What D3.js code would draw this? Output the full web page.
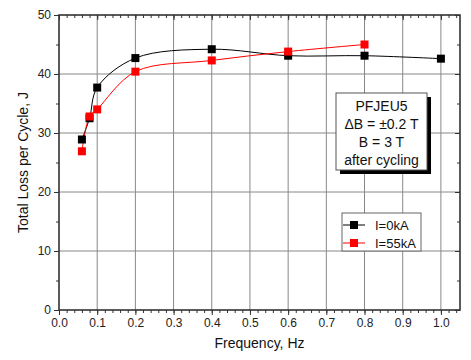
<!DOCTYPE html>
<html><head><meta charset="utf-8">
<script src="https://cdn.jsdelivr.net/npm/d3@7"></script>
<style>
body{margin:0;background:#fff;}
text{font-family:"Liberation Sans",Arial,sans-serif;}
</style></head>
<body><svg id="c" width="471" height="360"></svg>
<script>
const freq0 = [0.06, 0.08, 0.1, 0.2, 0.4, 0.6, 0.8, 1.0];
const loss0 = [28.9, 32.5, 37.7, 42.7, 44.2, 43.1, 43.1, 42.6];
const freq55 = [0.06, 0.08, 0.1, 0.2, 0.4, 0.6, 0.8];
const loss55 = [26.9, 32.8, 34.0, 40.4, 42.3, 43.8, 45.0];
const xTicks = [0.0,0.1,0.2,0.3,0.4,0.5,0.6,0.7,0.8,0.9,1.0];
const yTicks = [0,10,20,30,40,50];
const seriesNames = ["I=0kA","I=55kA"];
const seriesColors = ["#000000","#ff0000"];
const annotation = ["PFJEU5","\u0394B = \u00b10.2 T","B = 3 T","after cycling"];

const svg = d3.select("#c");
const L=59,R=460,T=15,B=310;
const x = d3.scaleLinear().domain([0,1.05]).range([L,R]);
const y = d3.scaleLinear().domain([0,50]).range([B,T]);

// grid
const g = svg.append("g");
g.selectAll(".gx").data(xTicks.slice(1)).enter().append("line")
 .attr("x1",d=>x(d)).attr("x2",d=>x(d)).attr("y1",T).attr("y2",B)
 .attr("stroke","#888").attr("stroke-width",1);
g.selectAll(".gy").data(yTicks.slice(1,-1)).enter().append("line")
 .attr("y1",d=>y(d)).attr("y2",d=>y(d)).attr("x1",L).attr("x2",R)
 .attr("stroke","#888").attr("stroke-width",1);

// axes
const minorX = d3.range(0,1.0501,0.02);
const minorY = d3.range(0,50.01,5);
const xAxis = d3.axisBottom(x).tickValues(xTicks).tickFormat(d3.format(".1f")).tickSize(5).tickPadding(3);
const xAxisG = svg.append("g").attr("transform",`translate(0,${B})`).call(xAxis);
svg.append("g").attr("transform",`translate(0,${B})`).call(d3.axisBottom(x).tickValues(minorX).tickSize(3).tickFormat(""));
svg.append("g").attr("transform",`translate(0,${T})`).call(d3.axisBottom(x).tickValues(minorX).tickSize(3).tickFormat(""));
svg.append("g").attr("transform",`translate(0,${T})`).call(d3.axisBottom(x).tickValues(xTicks).tickSize(5).tickFormat(""));
const yAxisG = svg.append("g").attr("transform",`translate(${L},0)`).call(d3.axisLeft(y).tickValues(yTicks).tickSize(5).tickPadding(3));
svg.append("g").attr("transform",`translate(${L},0)`).call(d3.axisLeft(y).tickValues(minorY).tickSize(3).tickFormat(""));
svg.append("g").attr("transform",`translate(${R},0)`).call(d3.axisLeft(y).tickValues(minorY).tickSize(3).tickFormat(""));
svg.append("g").attr("transform",`translate(${R},0)`).call(d3.axisLeft(y).tickValues(yTicks).tickSize(5).tickFormat(""));
svg.selectAll(".domain").remove();
svg.selectAll(".tick line").attr("stroke","#333").attr("stroke-width",1);
svg.selectAll(".tick text").attr("font-size",12).attr("fill","#222").style("font-family","'Liberation Sans',Arial,sans-serif");

// frame
svg.append("rect").attr("x",L).attr("y",T).attr("width",R-L).attr("height",B-T)
 .attr("fill","none").attr("stroke","#333").attr("stroke-width",1.6);

// series
const line = d3.line().x(d=>x(d[0])).y(d=>y(d[1])).curve(d3.curveCatmullRom.alpha(0.5));
const data = [d3.zip(freq0,loss0), d3.zip(freq55,loss55)];
data.forEach((pts,i)=>{
  svg.append("path").datum(pts).attr("d",line).attr("fill","none")
   .attr("stroke",seriesColors[i]).attr("stroke-width",1);
});
data.forEach((pts,i)=>{
  svg.selectAll(".m"+i).data(pts).enter().append("rect")
   .attr("x",d=>x(d[0])-4).attr("y",d=>y(d[1])-4).attr("width",8).attr("height",8)
   .attr("fill",seriesColors[i]);
});

// annotation box
const bx=336,by=93,bw=91,bh=77;
svg.append("rect").attr("x",bx+4).attr("y",by+4).attr("width",bw).attr("height",bh).attr("fill","#000");
svg.append("rect").attr("x",bx).attr("y",by).attr("width",bw).attr("height",bh).attr("fill","#fff").attr("stroke","#555").attr("stroke-width",1);
svg.selectAll(".ann").data(annotation).enter().append("text")
 .attr("x",bx+bw/2).attr("y",(d,i)=>by+18+i*18).attr("text-anchor","middle")
 .attr("font-size",14).attr("fill","#111").text(d=>d);

// legend
const lx=342,ly=213,lw=79,lh=38;
svg.append("rect").attr("x",lx).attr("y",ly).attr("width",lw).attr("height",lh).attr("fill","#fff").attr("stroke","#666").attr("stroke-width",1);
seriesNames.forEach((n,i)=>{
  const yy = ly+12+i*18;
  svg.append("line").attr("x1",lx+1).attr("x2",lx+23).attr("y1",yy).attr("y2",yy).attr("stroke",seriesColors[i]).attr("stroke-width",1);
  svg.append("rect").attr("x",lx+12-4).attr("y",yy-4).attr("width",8).attr("height",8).attr("fill",seriesColors[i]);
  svg.append("text").attr("x",lx+33).attr("y",yy+5).attr("font-size",13).attr("fill","#111").text(n);
});

// axis titles
svg.append("text").attr("x",(L+R)/2).attr("y",348).attr("text-anchor","middle").attr("font-size",14).attr("fill","#111").text("Frequency, Hz");
svg.append("text").attr("transform",`translate(28,${(T+B)/2}) rotate(-90)`).attr("text-anchor","middle").attr("font-size",14).attr("fill","#111").text("Total Loss per Cycle, J");
</script></body></html>
